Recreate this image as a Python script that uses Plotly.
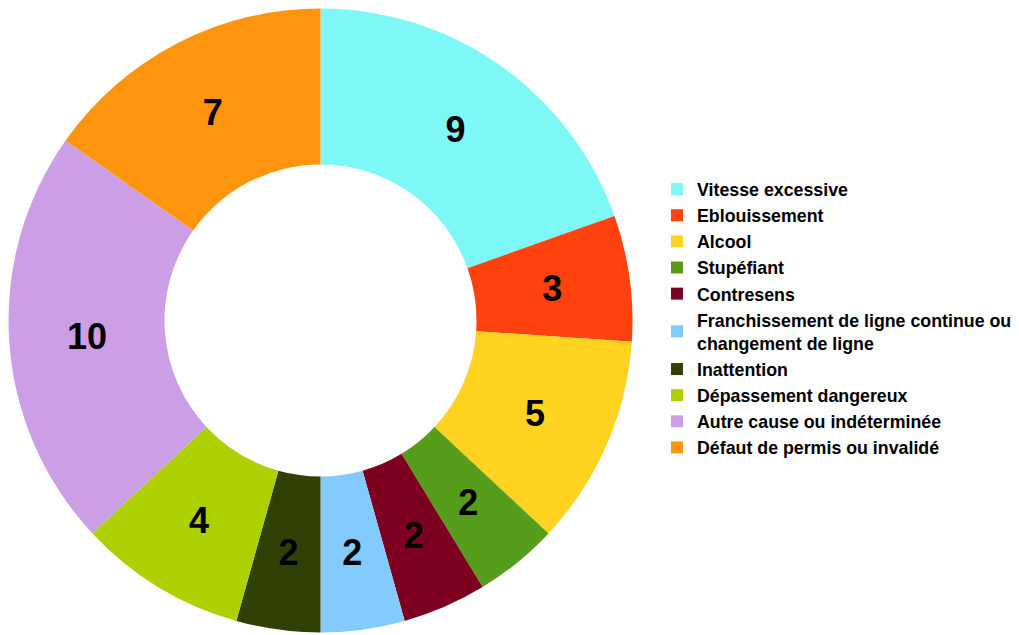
import plotly.graph_objects as go

labels = ["Vitesse excessive", "Eblouissement", "Alcool", "Stupéfiant", "Contresens",
          "Franchissement de ligne continue ou<br>changement de ligne", "Inattention",
          "Dépassement dangereux", "Autre cause ou indéterminée", "Défaut de permis ou invalidé"]
values = [9, 3, 5, 2, 2, 2, 2, 4, 10, 7]
colors = ["#7ef7f7", "#ff420e", "#ffd320", "#579d1c", "#7e0021",
          "#83caff", "#314004", "#aecf00", "#cc9ee6", "#ff950e"]

W, H = 1019, 635
cx, cy, r = 312.5, 312.5, 312
# label ring: a transparent pie whose inside text lands on the middle of the donut ring
r2 = 0.75 * r / 0.88


def dom(rad):
    return dict(x=[(cx - rad) / W, (cx + rad) / W], y=[(H - cy - rad) / H, (H - cy + rad) / H])


fig = go.Figure()
fig.add_trace(go.Pie(
    labels=labels, values=values, hole=0.5, sort=False, direction="clockwise",
    rotation=0,
    marker=dict(colors=colors, line=dict(width=0)),
    textinfo="none",
    domain=dom(r),
    hoverinfo="label+value",
))
fig.add_trace(go.Pie(
    labels=labels, values=values, hole=0.76, sort=False, direction="clockwise",
    rotation=0, showlegend=False,
    marker=dict(colors=["rgba(0,0,0,0)"] * len(values), line=dict(width=0)),
    textinfo="value", textposition="inside", insidetextorientation="horizontal",
    textfont=dict(family="Liberation Sans", size=36, color="black", weight="bold"),
    domain=dom(r2),
    hoverinfo="skip",
))
fig.update_layout(
    width=W, height=H, margin=dict(l=0, r=0, t=0, b=0, autoexpand=False),
    paper_bgcolor="white", plot_bgcolor="white",
    uniformtext=dict(minsize=36, mode="show"),
    font=dict(family="Liberation Sans", size=17.8, color="black", weight="bold"),
    legend=dict(x=649 / W, y=(H - 163) / H, xanchor="left", yanchor="top",
                font=dict(family="Liberation Sans", size=17.8, color="black", weight="bold"),
                itemwidth=30, tracegroupgap=0, bgcolor="rgba(0,0,0,0)"),
)
fig.write_html("out.html")
